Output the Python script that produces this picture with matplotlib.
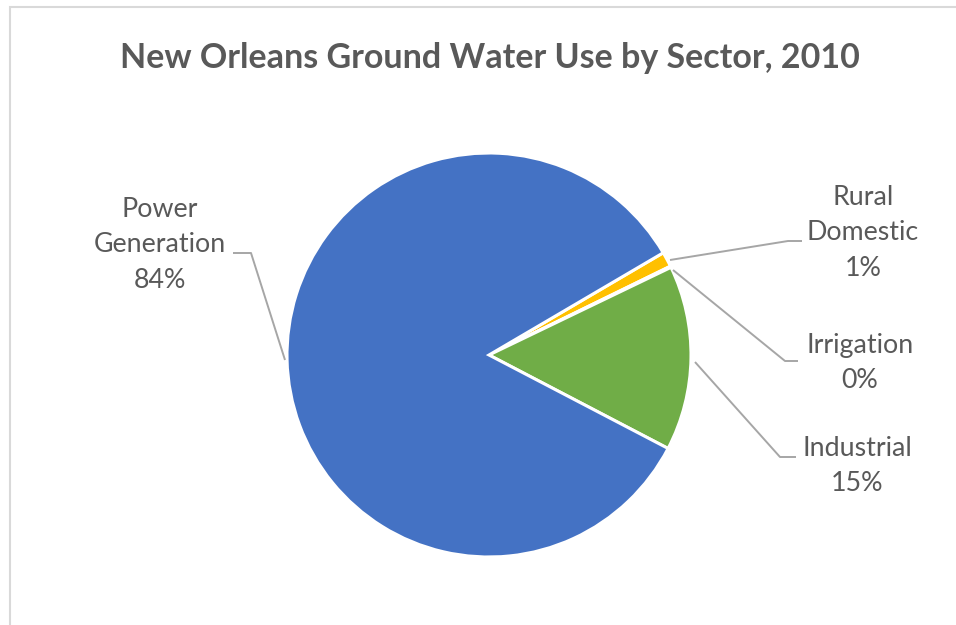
import matplotlib
matplotlib.use("Agg")
import matplotlib.pyplot as plt
from matplotlib.patches import Rectangle

# data, in clockwise order as drawn (starting at the upper right)
sectors = ["Rural\nDomestic", "Irrigation", "Industrial", "Power\nGeneration"]
shares = [1.2, 0.1, 14.8, 83.9]
colors = ["#FFC000", "#A5A5A5", "#70AD47", "#4472C4"]

W, H = 956, 625
cx, cy, R = 489, 355, 202  # pie centre / radius in pixels


def px(x, y):
    # pixel (from top-left) -> data units (pie radius = 1)
    return (x - cx) / R, (cy - y) / R


def main():
    plt.rcParams['font.family'] = ['Lato', 'DejaVu Sans']
    fig = plt.figure(figsize=(W / 100, H / 100), dpi=100)
    ax = fig.add_axes([0, 0, 1, 1])

    ax.pie(shares, colors=colors, startangle=30.4, counterclock=False,
           radius=1, center=(0, 0), frame=True,
           wedgeprops=dict(edgecolor="white", linewidth=2.2))
    ax.set_xlim(-cx / R, (W - cx) / R)
    ax.set_ylim(-(H - cy) / R, cy / R)
    ax.axis("off")

    grey = "#595959"
    line_c = "#A6A6A6"

    # label text positions (pixel centres) and leader elbows
    lab_pos = [(863, 233), (860, 363), (857, 466), (160, 245)]
    elbows = [[(670, 260), (788, 241), (802, 241)],
              [(673, 270), (785, 361), (798, 361)],
              [(695, 362), (780, 457), (796, 457)],
              [(285, 360), (251, 253), (233, 253)]]

    for name, val, (lx, ly), pts in zip(sectors, shares, lab_pos, elbows):
        txt = "%s\n%d%%" % (name, round(val))
        x, y = px(lx, ly)
        ax.text(x, y, txt, ha="center", va="center", fontsize=19.3,
                color=grey, linespacing=1.52)
        xs, ys = zip(*[px(a, b) for a, b in pts])
        ax.plot(xs, ys, color=line_c, lw=1.4, solid_capstyle="butt")

    fig.text(490 / W, 1 - 58 / H, "New Orleans Ground Water Use by Sector, 2010",
             ha="center", va="center", fontsize=24.5, fontweight="bold", color=grey)

    # chart area border
    fig.patches.append(Rectangle((10, -10), W + 20, H - 7 + 10, transform=None,
                                 fill=False, edgecolor="#D9D9D9", lw=1.5))

    fig.savefig("out.png", dpi=100, facecolor="white")


if __name__ == "__main__":
    main()
